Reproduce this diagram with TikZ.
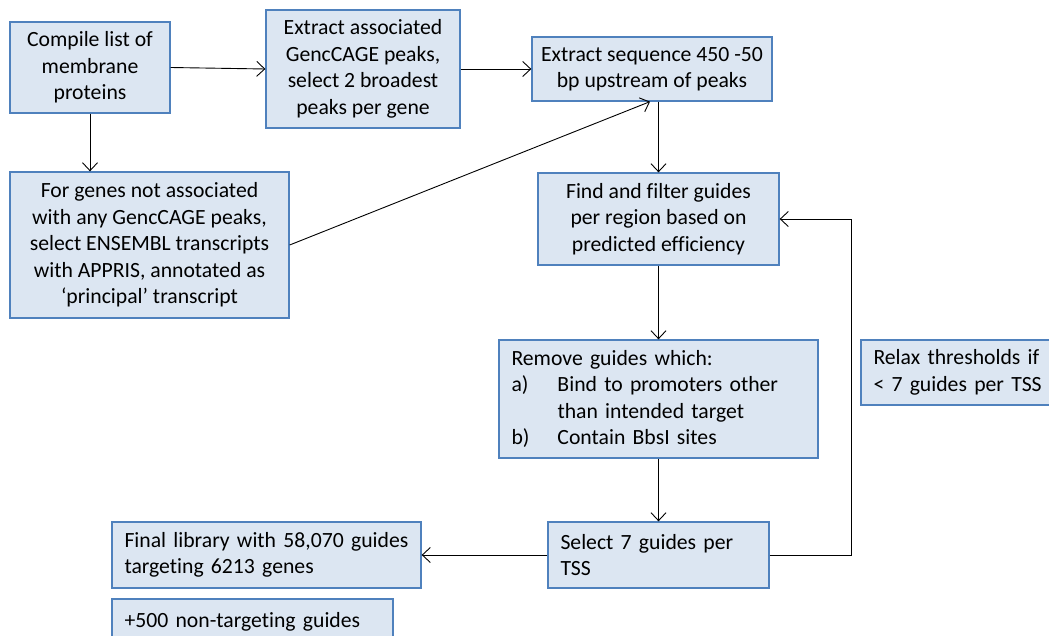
\documentclass[tikz,border=0pt]{standalone}
\usepackage{fontspec}
\setmainfont[Ligatures=NoCommon]{Carlito}
\usetikzlibrary{arrows.meta}
\definecolor{boxfill}{HTML}{DCE6F2}
\definecolor{boxline}{HTML}{4F81BD}
\tikzset{
  box/.style={draw=boxline, fill=boxfill, line width=1.3pt, inner ysep=0pt, inner xsep=12.5pt,
    font=\fontsize{21.7}{26.5}\selectfont, text=black},
  lbox/.style={box, align=left},
  cbox/.style={box, align=center, inner xsep=0pt},
  conn/.style={draw=black, line width=0.9pt, -{Straight Barb[length=8pt,width=15pt,line width=0.9pt]}},
}
\begin{document}
\begin{tikzpicture}[x=1pt,y=-1pt]
\useasboundingbox (0,0) rectangle (1049,636);
\node[cbox, minimum width=160pt, minimum height=91pt] (a) at (90,67.5)
  {Compile list of\\membrane\\proteins};
\node[cbox, minimum width=194pt, minimum height=118pt] (b) at (363,69)
  {Extract associated\\GencCAGE peaks,\\select 2 broadest\\peaks per gene};
\node[cbox, minimum width=240pt, minimum height=64pt] (c) at (652,69)
  {Extract sequence 450 -50\\bp upstream of peaks};
\node[cbox, minimum width=279pt, minimum height=146pt] (d) at (149.5,245)
  {For genes not associated\\with any GencCAGE peaks,\\select ENSEMBL transcripts\\with APPRIS, annotated as\\‘principal’ transcript};
\node[cbox, minimum width=241pt, minimum height=92pt] (e) at (658.5,219)
  {Find and filter guides\\per region based on\\predicted efficiency};
\node[lbox, text width=294pt, minimum height=118pt] (f) at (658.5,399)
  {Remove guides which:\\\makebox[46pt][l]{a)}Bind to promoters other\\\hspace*{46pt}than intended target\\\makebox[46pt][l]{b)}Contain BbsI sites};
\node[lbox, text width=180pt, minimum height=65pt] (r) at (963.5,372.5)
  {Relax thresholds if\\< 7 guides per TSS};
\node[lbox, text width=196pt, minimum height=66pt] (g) at (658.5,555)
  {Select 7 guides per\\TSS};
\node[lbox, text width=284pt, minimum height=66pt] (h) at (266.5,555)
  {Final library with 58,070 guides\\targeting 6213 genes};
\node[lbox, text width=256pt, minimum height=46pt] (k) at (252.5,622)
  {+500 non-targeting guides};
\draw[conn] (a.east) -- (b.west);
\draw[conn] (b.east) -- (c.west);
\draw[conn] (a.south) -- (a.south |- d.north);
\draw[conn] (d.east) -- ([xshift=-2pt]c.south);
\draw[conn] (e.north |- c.south) -- (e.north);
\draw[conn] (e.south) -- (f.north);
\draw[conn] (f.south) -- (g.north);
\draw[conn] (g.west) -- (h.east);
\coordinate (turn) at (851,555);
\draw[conn] (g.east) -- (turn) |- (e.east);
\end{tikzpicture}
\end{document}
